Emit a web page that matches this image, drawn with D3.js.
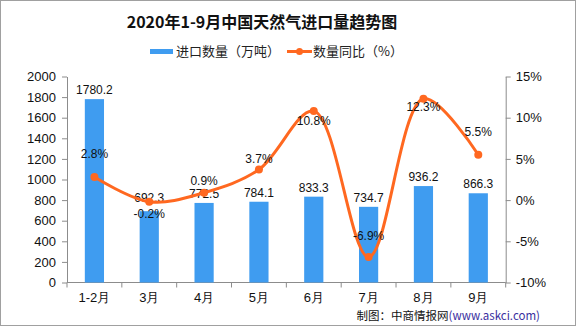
<!DOCTYPE html>
<html><head><meta charset="utf-8">
<script src="https://cdn.jsdelivr.net/npm/d3@7"></script>
<style>body{margin:0;background:#fff}svg{display:block}</style>
</head><body>
<svg id="c" width="576" height="326"></svg>
<script>
const categories = ["1-2月","3月","4月","5月","6月","7月","8月","9月"];
const importVolume = [1780.2, 692.3, 772.5, 784.1, 833.3, 734.7, 936.2, 866.3];
const yoyChange = [2.8, -0.2, 0.9, 3.7, 10.8, -6.9, 12.3, 5.5];
const leftTicks = [0,200,400,600,800,1000,1200,1400,1600,1800,2000];
const rightTicks = [-10,-5,0,5,10,15];
const title = "2020年1-9月中国天然气进口量趋势图";
const legendLabels = ["进口数量（万吨）","数量同比（%）"];

// label vertical offsets (style, px)
const pctLabelDy = [-23, 12, -12, -11, 10, -21, 8, -23];
const barLabelDy = [-5, -9, -5, -5, -5, -5, -5, -5];

const svg = d3.select("#c");
const W = 576, H = 326;
const L = 67, R = 505.7, T = 76.5, B = 282.5;
const barColor = "#3F9CF0", lineColor = "#FF6820", axisColor = "#8c8c8c";
const numFont = "'Liberation Sans', Arial, sans-serif";
const cjkFont = "'Noto Sans CJK SC', sans-serif";

svg.append("rect").attr("x",0.5).attr("y",0.5).attr("width",W-1).attr("height",H-1)
  .attr("fill","#fff").attr("stroke","#a0a0a0");

const x = d3.scaleBand().domain(categories).range([L,R]).paddingInner(0.65).paddingOuter(0.325);
const y = d3.scaleLinear().domain([0,2000]).range([B,T]);
const y2 = d3.scaleLinear().domain([-10,15]).range([B,T]);

// title
svg.append("text").attr("x",262).attr("y",28).attr("text-anchor","middle")
  .attr("font-family",cjkFont).attr("font-weight","bold").attr("font-size",16)
  .attr("fill","#111").text(title);

// legend
const lg = svg.append("g");
lg.append("rect").attr("x",150).attr("y",49).attr("width",23).attr("height",5).attr("fill",barColor);
lg.append("text").attr("x",176).attr("y",56).attr("font-family",cjkFont).attr("font-size",13)
  .attr("fill","#222").text(legendLabels[0]);
lg.append("line").attr("x1",287).attr("x2",312).attr("y1",51.5).attr("y2",51.5)
  .attr("stroke",lineColor).attr("stroke-width",3);
lg.append("circle").attr("cx",299.5).attr("cy",51.5).attr("r",3.5).attr("fill",lineColor);
lg.append("text").attr("x",313).attr("y",56).attr("font-family",cjkFont).attr("font-size",13)
  .attr("fill","#222").text(legendLabels[1]);

// axes
const axL = svg.append("g").attr("transform",`translate(${L},0)`)
  .call(d3.axisLeft(y).tickValues(leftTicks).tickSize(5).tickPadding(6).tickSizeOuter(0)
    .tickFormat(d3.format("d")));
const axR = svg.append("g").attr("transform",`translate(${R},0)`)
  .call(d3.axisRight(y2).tickValues(rightTicks).tickSize(5).tickPadding(5).tickSizeOuter(0)
    .tickFormat(d => d + "%"));
[axL, axR].forEach(a => {
  a.selectAll("path,line").attr("stroke",axisColor);
  a.selectAll("text").attr("font-family",numFont).attr("font-size",13).attr("fill","#111");
});

// bottom axis
svg.append("line").attr("x1",L).attr("x2",R).attr("y1",B).attr("y2",B).attr("stroke",axisColor);
const step = x.step();
const bounds = d3.range(categories.length + 1).map(i => L + i * step);
svg.selectAll(".xt").data(bounds).join("line").attr("class","xt")
  .attr("x1",d=>d).attr("x2",d=>d).attr("y1",B).attr("y2",B+5).attr("stroke",axisColor);
svg.selectAll(".xl").data(categories).join("text").attr("class","xl")
  .attr("x",d=>x(d)+x.bandwidth()/2).attr("y",302).attr("text-anchor","middle")
  .attr("font-family",numFont).attr("font-size",13).attr("fill","#111").text(d=>d);

// bars
svg.selectAll(".bar").data(importVolume).join("rect").attr("class","bar")
  .attr("x",(d,i)=>x(categories[i])).attr("width",x.bandwidth())
  .attr("y",d=>y(d)).attr("height",d=>B-y(d)).attr("fill",barColor);
svg.selectAll(".bl").data(importVolume).join("text").attr("class","bl")
  .attr("x",(d,i)=>x(categories[i])+x.bandwidth()/2).attr("y",(d,i)=>y(d)+barLabelDy[i])
  .attr("text-anchor","middle").attr("font-family",numFont).attr("font-size",12)
  .attr("fill","#111").text(d=>d.toFixed(1));

// line
const cx = i => x(categories[i]) + x.bandwidth()/2;
const line = d3.line().x((d,i)=>cx(i)).y(d=>y2(d)).curve(d3.curveCatmullRom.alpha(0.5));
svg.append("path").attr("d",line(yoyChange)).attr("fill","none")
  .attr("stroke",lineColor).attr("stroke-width",3);
svg.selectAll(".pt").data(yoyChange).join("circle").attr("class","pt")
  .attr("cx",(d,i)=>cx(i)).attr("cy",d=>y2(d)).attr("r",4).attr("fill",lineColor);
svg.selectAll(".pl").data(yoyChange).join("text").attr("class","pl")
  .attr("x",(d,i)=>cx(i)).attr("y",(d,i)=>y2(d)+pctLabelDy[i]+4)
  .attr("text-anchor","middle").attr("font-family",numFont).attr("font-size",12)
  .attr("fill","#111").text(d=>d.toFixed(1)+"%");

// source
const src = svg.append("text").attr("x",540).attr("y",320).attr("text-anchor","end")
  .attr("font-family",cjkFont).attr("font-size",11.5);
src.append("tspan").attr("fill","#111").text("制图：中商情报网");
src.append("tspan").attr("fill","#3a2fa0").text("(www.askci.com)");
</script>
</body></html>
